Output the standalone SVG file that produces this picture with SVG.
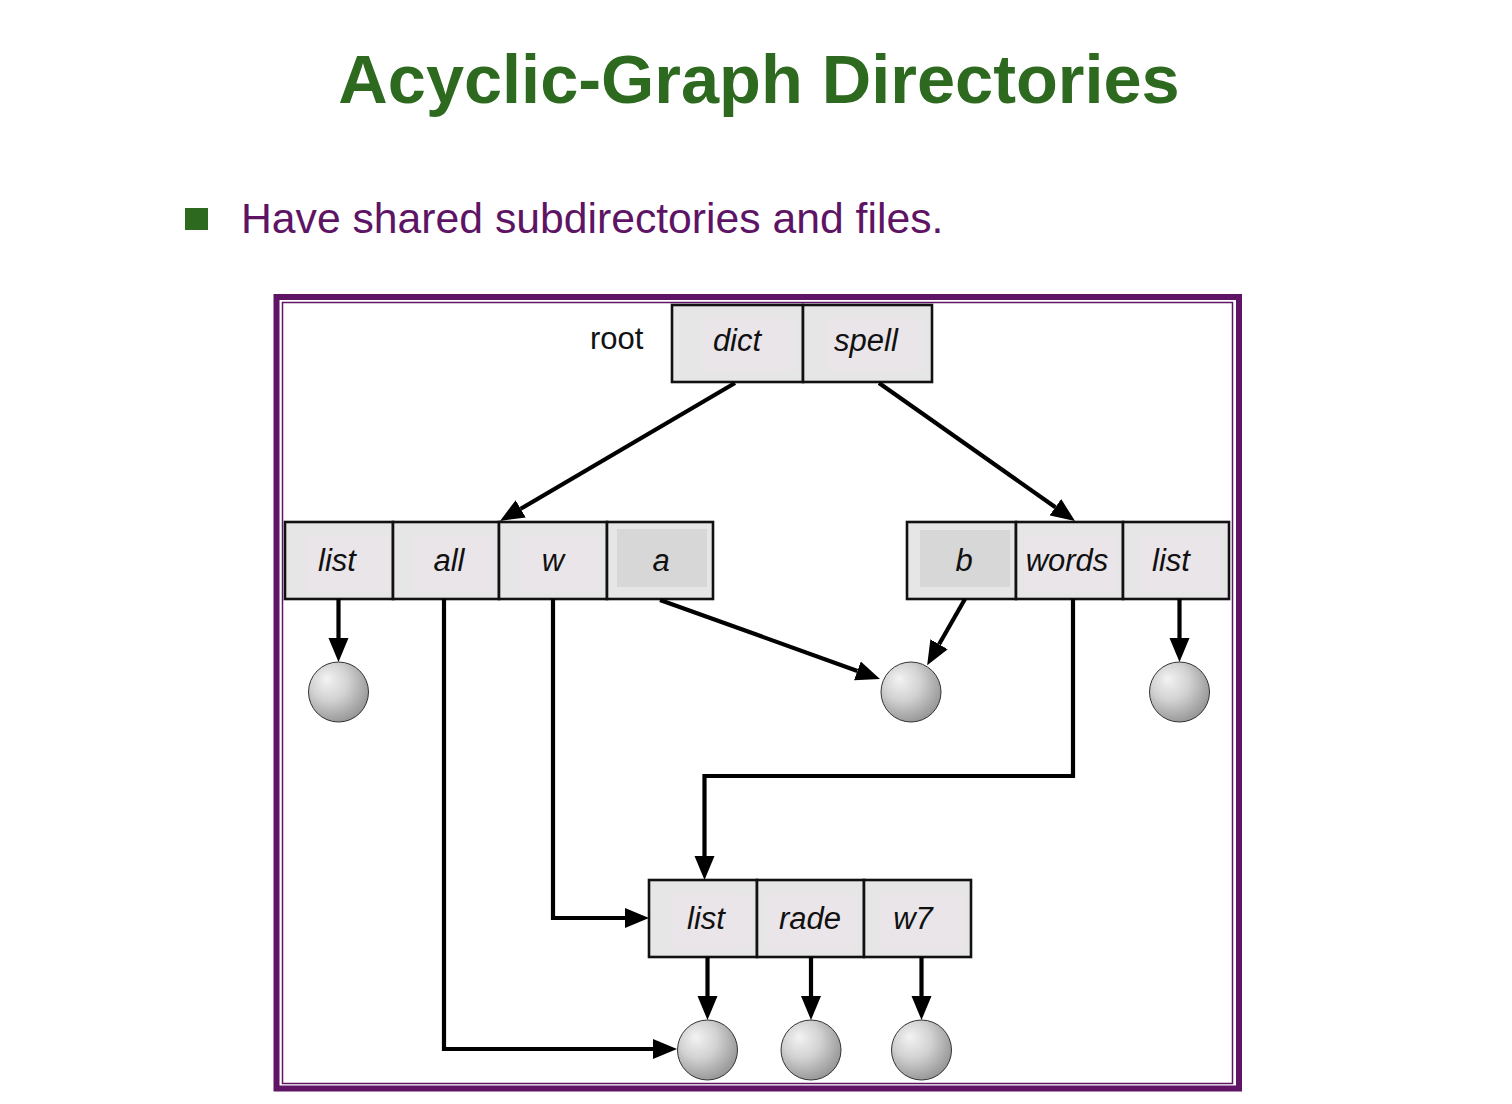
<svg xmlns="http://www.w3.org/2000/svg" width="1512" height="1104" viewBox="0 0 1512 1104">
<defs>
<style>
.title{font-family:"Liberation Sans",Arial,sans-serif;font-weight:bold;font-size:68.5px;fill:#2d6a1f}
.bullet{font-family:"Liberation Sans",Arial,sans-serif;font-size:42.7px;fill:#5e1464}
.lbl{font-family:"Liberation Sans",Arial,sans-serif;font-style:italic;font-size:31px;fill:#111;text-anchor:middle}
.root{font-family:"Liberation Sans",Arial,sans-serif;font-size:31px;fill:#111}
.cell{fill:#e6e6e6;stroke:#111;stroke-width:2.6}
.inner{fill:#e9e5e9}
.innerd{fill:#d7d7d7}
.sphere{fill:url(#sph);stroke:#333;stroke-width:1}
.conn{fill:none;stroke:#000;stroke-width:4.2;marker-end:url(#ah)}
</style>
<radialGradient id="sph" cx="0.4" cy="0.38" r="0.7" fx="0.3" fy="0.28">
<stop offset="0" stop-color="#f3f3f3"/>
<stop offset="0.45" stop-color="#d2d2d2"/>
<stop offset="1" stop-color="#8e8e8e"/>
</radialGradient>
<marker id="ah" markerUnits="userSpaceOnUse" markerWidth="26" markerHeight="22" viewBox="0 -11 26 22" refX="0" refY="0" orient="auto">
<path d="M0,-10 L24,0 L0,10 Z" fill="#000"/>
</marker>
</defs>
<rect width="1512" height="1104" fill="#fff"/>
<text class="title" x="759" y="103" text-anchor="middle">Acyclic-Graph Directories</text>
<rect x="185" y="208" width="23" height="22" fill="#2d6a1f"/>
<text class="bullet" x="241" y="233">Have shared subdirectories and files.</text>
<g id="frame">
<rect x="276.5" y="297" width="962.5" height="791.5" fill="none" stroke="#5f1466" stroke-width="6"/>
<rect x="282.5" y="302.5" width="950" height="781" fill="none" stroke="#5f1466" stroke-width="1.5"/>
</g>
<g id="node-root">
<text class="root" x="590" y="349">root</text>
<rect class="cell" x="672" y="305" width="131" height="77"/>
<rect class="inner" x="702" y="318" width="92" height="53"/>
<rect class="cell" x="803" y="305" width="129" height="77"/>
<rect class="inner" x="826" y="318" width="96" height="53"/>
<text class="lbl" x="737" y="351">dict</text>
<text class="lbl" x="866" y="351">spell</text>
</g>
<g id="node-dict">
<rect class="cell" x="285" y="522" width="108" height="77"/>
<rect class="inner" x="306" y="536" width="82" height="56"/>
<rect class="cell" x="393" y="522" width="106" height="77"/>
<rect class="inner" x="413" y="536" width="80" height="56"/>
<rect class="cell" x="499" y="522" width="108" height="77"/>
<rect class="inner" x="519" y="536" width="82" height="56"/>
<rect class="cell" x="607" y="522" width="106" height="77"/>
<rect class="innerd" x="617" y="529" width="90" height="58"/>
<text class="lbl" x="337" y="571">list</text>
<text class="lbl" x="449" y="571">all</text>
<text class="lbl" x="553" y="571">w</text>
<text class="lbl" x="661" y="571">a</text>
</g>
<g id="node-spell">
<rect class="cell" x="907" y="522" width="109" height="77"/>
<rect class="innerd" x="920" y="530" width="90" height="57"/>
<rect class="cell" x="1016" y="522" width="107" height="77"/>
<rect class="inner" x="1024" y="536" width="92" height="56"/>
<rect class="cell" x="1123" y="522" width="106" height="77"/>
<rect class="inner" x="1140" y="536" width="80" height="56"/>
<text class="lbl" x="964" y="571">b</text>
<text class="lbl" x="1067" y="571">words</text>
<text class="lbl" x="1171" y="571">list</text>
</g>
<g id="node-words">
<rect class="cell" x="649" y="880" width="108" height="77"/>
<rect class="inner" x="671" y="894" width="80" height="56"/>
<rect class="cell" x="757" y="880" width="107" height="77"/>
<rect class="inner" x="766" y="894" width="92" height="56"/>
<rect class="cell" x="864" y="880" width="107" height="77"/>
<rect class="inner" x="880" y="894" width="84" height="56"/>
<text class="lbl" x="706" y="929">list</text>
<text class="lbl" x="810" y="929">rade</text>
<text class="lbl" x="913" y="929">w7</text>
</g>
<g id="files">
<circle id="file-list1" class="sphere" cx="338.5" cy="692" r="30"/>
<circle id="file-a-b" class="sphere" cx="911" cy="692" r="30"/>
<circle id="file-list2" class="sphere" cx="1179.5" cy="692" r="30"/>
<circle id="file-list3" class="sphere" cx="707.5" cy="1050" r="30"/>
<circle id="file-rade" class="sphere" cx="811" cy="1050" r="30"/>
<circle id="file-w7" class="sphere" cx="921.5" cy="1050" r="30"/>
</g>
<g id="connectors">
<path class="conn" d="M735,383 L520.7,508.8"/>
<path class="conn" d="M879,383 L1055.4,507.2"/>
<path class="conn" d="M338.5,599 L338.5,638"/>
<path class="conn" d="M444,599 L444,1049 L653,1049"/>
<path class="conn" d="M553,599 L553,918 L625,918"/>
<path class="conn" d="M660,600 L857.4,670.9"/>
<path class="conn" d="M965,599 L939.1,644.3"/>
<path class="conn" d="M1073,599 L1073,776 L704.5,776 L704.5,856"/>
<path class="conn" d="M1179.5,599 L1179.5,638"/>
<path class="conn" d="M707.5,957 L707.5,996"/>
<path class="conn" d="M811,957 L811,996"/>
<path class="conn" d="M921.5,957 L921.5,996"/>
</g>
</svg>
